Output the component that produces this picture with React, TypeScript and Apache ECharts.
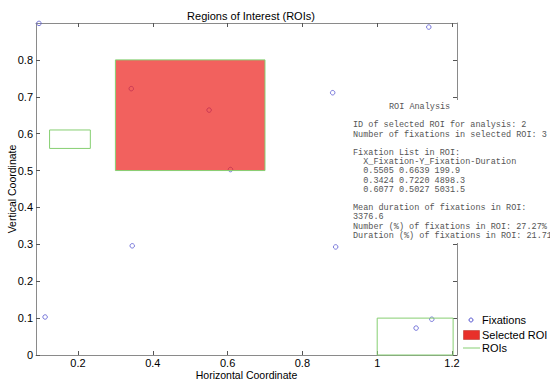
import React, { useEffect, useRef } from "react";
import * as echarts from "echarts";

const title = "Regions of Interest (ROIs)";
const xName = "Horizontal Coordinate";
const yName = "Vertical Coordinate";
const xTicks = [0.2, 0.4, 0.6, 0.8, 1.0, 1.2];
const yTicks = [0, 0.1, 0.2, 0.3, 0.4, 0.5, 0.6, 0.7, 0.8];
const xRange = [0.0877, 1.2134];
const yRange = [0, 0.9];

// fixations [x, y]
const fixations: number[][] = [
  [0.0957, 0.899],
  [1.138, 0.889],
  [0.881, 0.711],
  [0.5505, 0.6639],
  [0.3424, 0.722],
  [0.6077, 0.5027],
  [0.345, 0.296],
  [0.112, 0.103],
  [0.889, 0.293],
  [1.104, 0.073],
  [1.146, 0.097],
];

// ROIs [x1, y1, x2, y2]
const rois: number[][] = [
  [0.124, 0.56, 0.233, 0.61],
  [0.3, 0.5, 0.7, 0.8],
  [1.0, 0.0, 1.203, 0.1],
];
const selectedRoi = [rois[1]];

const analysisLines = [
  "ID of selected ROI for analysis: 2",
  "Number of fixations in selected ROI: 3",
  "",
  "Fixation List in ROI:",
  "  X_Fixation-Y_Fixation-Duration",
  "  0.5505 0.6639 199.9",
  "  0.3424 0.7220 4898.3",
  "  0.6077 0.5027 5031.5",
  "",
  "Mean duration of fixations in ROI:",
  "3376.6",
  "Number (%) of fixations in ROI: 27.27%",
  "Duration (%) of fixations in ROI: 21.71",
];

const FONT = "'Liberation Sans', Arial, Helvetica, sans-serif";
const MONO = "'Liberation Mono', 'Courier New', monospace";
const BLUE = "#5a5ad2";
const GREEN = "#86cf72";
const AXIS = "#8a8a8a";

const rectRender = (fill: string, stroke: string) => (params: any, api: any) => {
  const p1 = api.coord([api.value(0), api.value(1)]);
  const p2 = api.coord([api.value(2), api.value(3)]);
  const x = Math.min(p1[0], p2[0]);
  const y = Math.min(p1[1], p2[1]);
  return {
    type: "rect",
    shape: { x, y, width: Math.abs(p2[0] - p1[0]), height: Math.abs(p2[1] - p1[1]) },
    style: { fill, stroke, lineWidth: 1 },
  };
};

export default function App() {
  const ref = useRef<HTMLDivElement>(null);
  useEffect(() => {
    if (!ref.current) return;
    const chart = echarts.init(ref.current, null, { renderer: "svg" });
    const axisCommon = {
      type: "value",
      axisLine: { show: true, onZero: false, lineStyle: { color: AXIS, width: 1 } },
      splitLine: { show: false },
    };
    chart.setOption({
      animation: false,
      backgroundColor: "#fff",
      title: {
        text: title,
        left: 246,
        top: 5,
        textAlign: "center",
        textStyle: { fontFamily: FONT, fontSize: 11, fontWeight: "normal", color: "#000" },
      },
      grid: { left: 36, right: 93, top: 23, bottom: 30, containLabel: false, outerBoundsMode: "none" },
      xAxis: [
        {
          ...axisCommon,
          position: "bottom",
          min: xRange[0],
          max: xRange[1],
          name: xName,
          nameLocation: "middle",
          nameGap: 14,
          nameMoveOverlap: false,
          nameTextStyle: { fontFamily: FONT, fontSize: 10.5, color: "#000" },
          axisTick: { show: true, inside: true, length: 4, customValues: xTicks, lineStyle: { color: "#555" } },
          axisLabel: {
            show: true,
            customValues: xTicks,
            margin: 2,
            fontFamily: FONT,
            fontSize: 11,
            color: "#000",
            formatter: (v: number) => String(Math.round(v * 10) / 10),
          },
        },
        {
          ...axisCommon,
          position: "top",
          min: xRange[0],
          max: xRange[1],
          axisTick: { show: true, inside: true, length: 4, customValues: xTicks, lineStyle: { color: "#555" } },
          axisLabel: { show: false },
        },
      ],
      yAxis: [
        {
          ...axisCommon,
          position: "left",
          min: yRange[0],
          max: yRange[1],
          name: yName,
          nameLocation: "middle",
          nameGap: 19,
          nameMoveOverlap: false,
          nameRotate: 90,
          nameTextStyle: { fontFamily: FONT, fontSize: 10.5, color: "#000" },
          axisTick: { show: true, inside: true, length: 4, customValues: yTicks, lineStyle: { color: "#555" } },
          axisLabel: {
            show: true,
            customValues: yTicks,
            margin: 3,
            fontFamily: FONT,
            fontSize: 11,
            color: "#000",
            formatter: (v: number) => String(Math.round(v * 10) / 10),
          },
        },
        {
          ...axisCommon,
          position: "right",
          min: yRange[0],
          max: yRange[1],
          axisTick: { show: true, inside: true, length: 4, customValues: yTicks, lineStyle: { color: "#555" } },
          axisLabel: { show: false },
        },
      ],
      series: [
        {
          name: "Fixations",
          type: "scatter",
          data: fixations,
          symbol: "circle",
          symbolSize: 4.5,
          itemStyle: { color: "rgba(0,0,0,0)", borderColor: BLUE, borderWidth: 1 },
          z: 2,
        },
        {
          name: "Selected ROI",
          type: "custom",
          data: selectedRoi,
          renderItem: rectRender("rgba(236,30,25,0.7)", "none"),
          z: 3,
        },
        {
          name: "ROIs",
          type: "custom",
          data: rois,
          renderItem: rectRender("none", GREEN),
          z: 4,
        },
      ],
      graphic: [
        {
          type: "rect",
          z: 100,
          shape: { x: 345, y: 100, width: 210, height: 143 },
          style: { fill: "#fff" },
        },
        {
          type: "text",
          z: 101,
          x: 389,
          y: 107,
          style: { text: "ROI Analysis", font: `8.5px ${MONO}`, fill: "#555", textVerticalAlign: "middle" },
        },
        {
          type: "text",
          z: 101,
          x: 353,
          y: 120.8,
          style: {
            text: analysisLines.join("\n"),
            font: `8.5px ${MONO}`,
            lineHeight: 9.2,
            fill: "#555",
            textVerticalAlign: "top",
          },
        },
        // legend
        { type: "circle", z: 101, shape: { cx: 471, cy: 320, r: 2 }, style: { fill: "none", stroke: BLUE, lineWidth: 1 } },
        {
          type: "text", z: 101, x: 482, y: 320,
          style: { text: "Fixations", font: `11px ${FONT}`, fill: "#000", textVerticalAlign: "middle" },
        },
        { type: "rect", z: 101, shape: { x: 463.5, y: 330.5, width: 16, height: 9 }, style: { fill: "#e8302a", stroke: "#b02a20", lineWidth: 0.5 } },
        {
          type: "text", z: 101, x: 482, y: 335,
          style: { text: "Selected ROI", font: `11px ${FONT}`, fill: "#000", textVerticalAlign: "middle" },
        },
        { type: "line", z: 101, shape: { x1: 463, y1: 348, x2: 480, y2: 348 }, style: { stroke: GREEN, lineWidth: 1 } },
        {
          type: "text", z: 101, x: 482, y: 348,
          style: { text: "ROIs", font: `11px ${FONT}`, fill: "#000", textVerticalAlign: "middle" },
        },
      ],
    });
    return () => chart.dispose();
  }, []);
  return <div ref={ref} style={{ width: 550, height: 385, position: "absolute", left: 0, top: 0 }} />;
}
